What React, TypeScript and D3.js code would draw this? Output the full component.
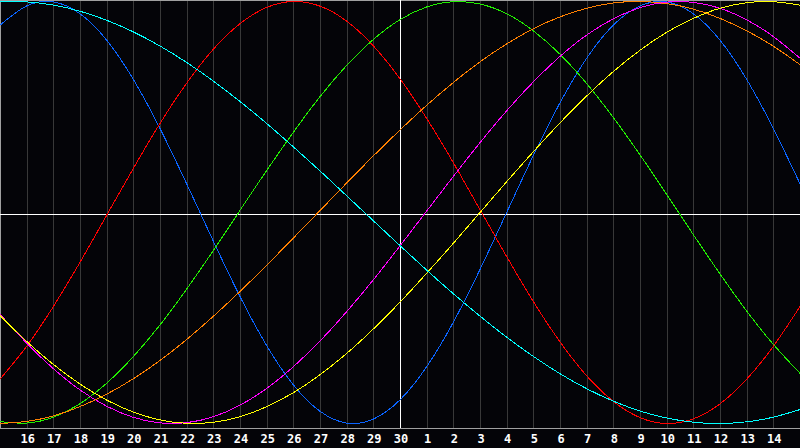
import * as React from 'react';
import * as d3 from 'd3';

// day labels under the grid, one per grid line (index 1..29)
const dayLabels = [
  '16', '17', '18', '19', '20', '21', '22', '23', '24', '25', '26', '27', '28', '29', '30',
  '1', '2', '3', '4', '5', '6', '7', '8', '9', '10', '11', '12', '13', '14',
];

// values per day (index 0 = left edge, 30 = right edge), -1..1
const physical = [
  0.888, 0.979, 0.998, 0.942, 0.817, 0.631, 0.398, 0.136, -0.136, -0.398, -0.631,
  -0.817, -0.942, -0.998, -0.979, -0.888, -0.731, -0.52, -0.27, 0, 0.27,
  0.52, 0.731, 0.888, 0.979, 0.998, 0.942, 0.817, 0.631, 0.398, 0.136,
];
const emotional = [
  -0.79, -0.634, -0.446, -0.236, -0.013, 0.209, 0.422, 0.613, 0.774, 0.895, 0.972,
  1.0, 0.978, 0.907, 0.79, 0.634, 0.446, 0.236, 0.013, -0.209, -0.422,
  -0.613, -0.774, -0.895, -0.972, -1.0, -0.978, -0.907, -0.79, -0.634, -0.446,
];
const intellectual = [
  -0.991, -0.998, -0.97, -0.906, -0.809, -0.683, -0.533, -0.363, -0.18, 0.01, 0.199,
  0.38, 0.549, 0.697, 0.82, 0.914, 0.974, 0.999, 0.988, 0.942, 0.861,
  0.75, 0.611, 0.45, 0.273, 0.086, -0.105, -0.291, -0.467, -0.625, -0.762,
];
const intuitive = [
  -0.482, -0.619, -0.74, -0.841, -0.918, -0.971, -0.997, -0.996, -0.968, -0.913, -0.834,
  -0.731, -0.609, -0.47, -0.319, -0.158, 0.007, 0.171, 0.331, 0.482, 0.619,
  0.74, 0.841, 0.918, 0.971, 0.997, 0.996, 0.968, 0.913, 0.834, 0.731,
];
const aesthetic = [
  -0.489, -0.611, -0.72, -0.813, -0.889, -0.946, -0.983, -0.999, -0.994, -0.968, -0.92,
  -0.854, -0.769, -0.668, -0.552, -0.425, -0.288, -0.146, 0, 0.146, 0.288,
  0.425, 0.552, 0.668, 0.769, 0.854, 0.92, 0.968, 0.994, 0.999, 0.983,
];
const awareness = [
  -1.0, -0.99, -0.964, -0.92, -0.861, -0.788, -0.701, -0.602, -0.492, -0.374, -0.25,
  -0.121, 0.009, 0.14, 0.268, 0.391, 0.508, 0.616, 0.714, 0.799, 0.871,
  0.927, 0.968, 0.993, 1.0, 0.99, 0.964, 0.92, 0.861, 0.788, 0.701,
];
const spiritual = [
  0.999, 0.998, 0.983, 0.954, 0.911, 0.856, 0.789, 0.711, 0.623, 0.526, 0.422,
  0.311, 0.197, 0.079, -0.039, -0.157, -0.273, -0.385, -0.491, -0.591, -0.682,
  -0.764, -0.835, -0.894, -0.941, -0.974, -0.994, -1.0, -0.992, -0.97, -0.934,
];

const cycles = [
  { name: 'physical', values: physical, color: '#0a64ff' },
  { name: 'emotional', values: emotional, color: '#ff0000' },
  { name: 'intellectual', values: intellectual, color: '#22ee00' },
  { name: 'intuitive', values: intuitive, color: '#ff00ff' },
  { name: 'aesthetic', values: aesthetic, color: '#ffff00' },
  { name: 'awareness', values: awareness, color: '#ff8000' },
  { name: 'spiritual', values: spiritual, color: '#00ffff' },
];

const W = 800;
const H = 448;
const plotBottom = 428;

class App extends React.PureComponent {
  public render(): React.ReactNode {
    const x = d3.scaleLinear().domain([0, 30]).range([0, W]);
    const y = d3.scaleLinear().domain([-1, 1]).range([423.5, 1.5]);

    const line = d3
      .line<number>()
      .x((_, i) => x(i))
      .y((v) => y(v))
      .curve(d3.curveNatural);

    const grid = d3.range(1, 30);

    return (
      <svg
        width={W}
        height={H}
        style={{ position: 'fixed', left: 0, top: 0, background: '#040408' }}
      >
        <rect x={0} y={0} width={W} height={H} fill="#040408" />
        {/* day grid */}
        {grid.map((d) => (
          <line
            key={d}
            x1={Math.round(x(d)) + 0.5}
            x2={Math.round(x(d)) + 0.5}
            y1={0}
            y2={plotBottom}
            stroke="#383838"
            strokeWidth={1}
            shapeRendering="crispEdges"
          />
        ))}
        {/* frame */}
        <line x1={0.5} x2={0.5} y1={0} y2={plotBottom} stroke="#a0a0a0" shapeRendering="crispEdges" />
        <line x1={0} x2={W} y1={0.5} y2={0.5} stroke="#a0a0a0" shapeRendering="crispEdges" />
        <line x1={0} x2={W} y1={plotBottom + 0.5} y2={plotBottom + 0.5} stroke="#a0a0a0" shapeRendering="crispEdges" />
        {/* today + zero line */}
        <line x1={0} x2={W} y1={214.5} y2={214.5} stroke="#ffffff" shapeRendering="crispEdges" />
        <line x1={x(15) + 0.5} x2={x(15) + 0.5} y1={0} y2={plotBottom} stroke="#ffffff" shapeRendering="crispEdges" />
        {/* cycles */}
        {cycles.map((c) => (
          <path
            key={c.name}
            d={line(c.values) || ''}
            fill="none"
            stroke={c.color}
            strokeWidth={1}
            shapeRendering="crispEdges"
          />
        ))}
        {/* labels */}
        {grid.map((d, i) => (
          <text
            key={d}
            x={x(d) + 1}
            y={443}
            fill="#ffffff"
            fontFamily="DejaVu Sans Mono"
            fontWeight="bold"
            fontSize={12}
            textAnchor="middle"
          >
            {dayLabels[i]}
          </text>
        ))}
      </svg>
    );
  }
}

export default App;
